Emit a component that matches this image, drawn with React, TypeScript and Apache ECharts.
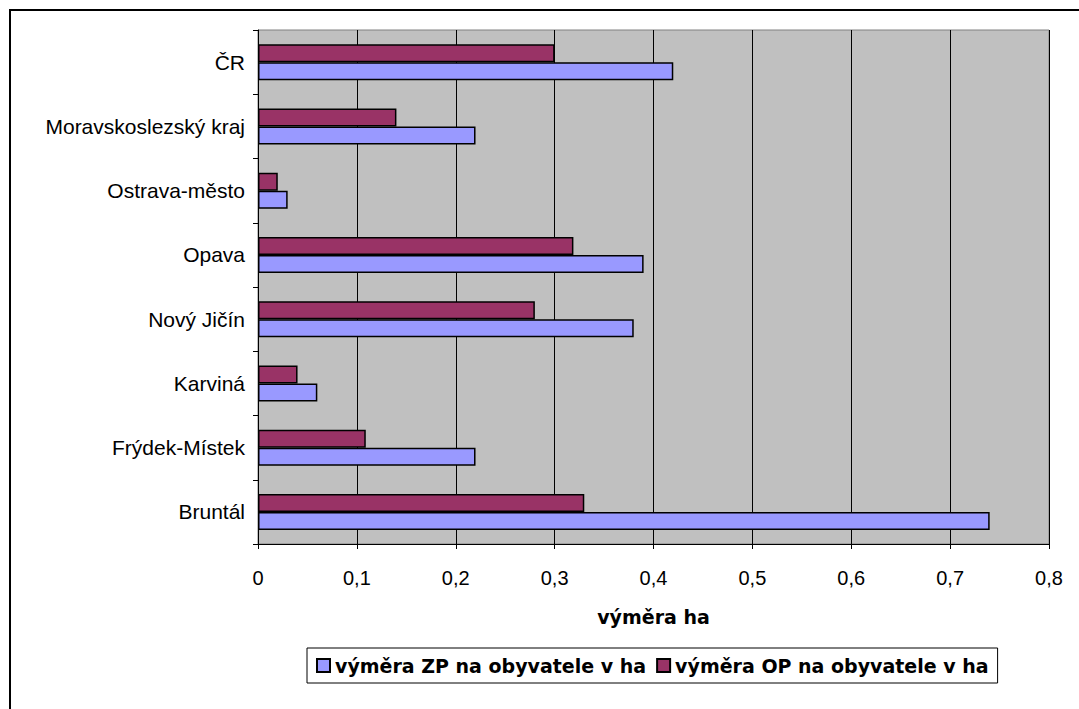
import React, { useEffect, useRef } from "react";
import * as echarts from "echarts";

const categories = [
  "Bruntál",
  "Frýdek-Místek",
  "Karviná",
  "Nový Jičín",
  "Opava",
  "Ostrava-město",
  "Moravskoslezský kraj",
  "ČR",
];
const zpValues = [0.74, 0.22, 0.06, 0.38, 0.39, 0.03, 0.22, 0.42];
const opValues = [0.33, 0.109, 0.04, 0.28, 0.319, 0.02, 0.14, 0.3];
const seriesNames = ["výměra ZP na obyvatele v ha", "výměra OP na obyvatele v ha"];
const axisName = "výměra ha";

export default function App() {
  const ref = useRef<HTMLDivElement>(null);
  useEffect(() => {
    if (!ref.current) return;
    const chart = echarts.init(ref.current, null, { renderer: "svg" });
    const font = "Arial, 'Liberation Sans', sans-serif";
    const boldFont = "'DejaVu Sans', Arial, sans-serif";
    chart.setOption({
      animation: false,
      backgroundColor: "#ffffff",
      graphic: [
        {
          type: "rect",
          shape: { x: 10, y: 10, width: 1100, height: 760 },
          style: { fill: "none", stroke: "#000", lineWidth: 2 },
          silent: true,
        },
      ],
      grid: {
        left: 258,
        top: 30,
        right: 30,
        bottom: 165,
        show: true,
        backgroundColor: "#c0c0c0",
        borderColor: "#808080",
        borderWidth: 1,
      },
      legend: {
        left: 307,
        top: 648,
        orient: "horizontal",
        icon: "rect",
        itemWidth: 13,
        itemHeight: 13,
        itemGap: 10,
        borderColor: "#000",
        borderWidth: 1,
        padding: [8, 9, 8, 9],
        textStyle: { fontFamily: boldFont, fontWeight: "bold", fontSize: 19, color: "#000" },
        data: seriesNames,
      },
      xAxis: {
        type: "value",
        min: 0,
        max: 0.8,
        interval: 0.1,
        name: axisName,
        nameLocation: "middle",
        nameGap: 63,
        nameTextStyle: { fontFamily: boldFont, fontWeight: "bold", fontSize: 19, color: "#000" },
        axisLine: { show: true, lineStyle: { color: "#000", width: 1 } },
        axisTick: { show: true, length: 5, lineStyle: { color: "#000" } },
        axisLabel: {
          fontFamily: font,
          fontSize: 20,
          color: "#000",
          margin: 24,
          formatter: (v: number) => String(Math.round(v * 10) / 10).replace(".", ","),
        },
        splitLine: { show: true, lineStyle: { color: "#000", width: 1 } },
      },
      yAxis: {
        type: "category",
        data: categories,
        axisLine: { show: true, lineStyle: { color: "#000", width: 1 } },
        axisTick: { show: true, length: 5, lineStyle: { color: "#000" } },
        axisLabel: { fontFamily: font, fontSize: 21, color: "#000", margin: 13 },
        splitLine: { show: false },
      },
      series: [
        {
          name: seriesNames[1],
          type: "bar",
          data: opValues,
          barWidth: 18,
          barGap: "0%",
          itemStyle: { color: "#993366", borderColor: "#000", borderWidth: 1.5 },
        },
        {
          name: seriesNames[0],
          type: "bar",
          data: zpValues,
          barWidth: 18,
          barGap: "0%",
          itemStyle: { color: "#9999ff", borderColor: "#000", borderWidth: 1.5 },
        },
      ],
    });
    return () => chart.dispose();
  }, []);
  return (
    <div
      ref={ref}
      style={{ position: "fixed", left: 0, top: 0, width: 1079, height: 709 }}
    />
  );
}
